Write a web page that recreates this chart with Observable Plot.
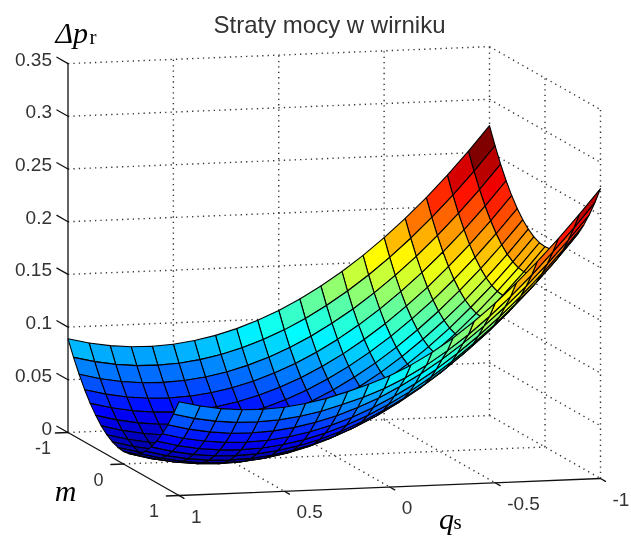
<!DOCTYPE html>
<html>
<head>
<meta charset="utf-8">
<script src="https://cdn.jsdelivr.net/npm/d3@7"></script>
<script src="https://cdn.jsdelivr.net/npm/@observablehq/plot@0.6"></script>
<style>html,body{margin:0;padding:0;background:#fff;overflow:hidden}svg{display:block}</style>
</head>
<body>
<div id="chart"></div>
<script>
const qValues = [1,.9,.8,.7,.6,.5,.4,.3,.2,.1,0,-.1,-.2,-.3,-.4,-.5,-.6,-.7,-.8,-.9,-1];
const mValues = [-1,-.9,-.8,-.7,-.6,-.5,-.4,-.3,-.2,-.1,0,.1,.2,.3,.4,.5,.6,.7,.8,.9,1];
const qTicks = [1,.5,0,-.5,-1];
const mTicks = [-1,0,1];
const zTicks = [0,.05,.1,.15,.2,.25,.3,.35];
const qTickLabels = ["1","0.5","0","-0.5","-1"];
const mTickLabels = ["-1","0","1"];
const zTickLabels = ["0","0.05","0.1","0.15","0.2","0.25","0.3","0.35"];
const titleText = "Straty mocy w wirniku";
// Δp_r: one row per m, one column per q
const dp = [
[.0889,.0841,.0808,.0789,.0786,.0797,.0824,.0865,.0921,.0992,.1077,.1178,.1293,.1423,.1568,.1728,.1902,.2092,.2296,.2516,.2750],
[.0743,.0694,.0660,.0640,.0637,.0647,.0673,.0713,.0769,.0839,.0923,.1023,.1138,.1267,.1411,.1570,.1744,.1933,.2136,.2355,.2589],
[.0612,.0562,.0528,.0507,.0503,.0513,.0538,.0578,.0632,.0702,.0785,.0885,.0999,.1127,.1271,.1429,.1602,.1790,.1993,.2211,.2444],
[.0496,.0446,.0411,.0390,.0385,.0394,.0419,.0458,.0512,.0581,.0664,.0763,.0876,.1004,.1147,.1305,.1477,.1665,.1867,.2085,.2317],
[.0396,.0346,.0310,.0289,.0283,.0291,.0316,.0354,.0408,.0476,.0559,.0657,.0769,.0897,.1039,.1197,.1368,.1556,.1757,.1975,.2206],
[.0312,.0261,.0225,.0203,.0197,.0205,.0229,.0267,.0320,.0388,.0470,.0568,.0680,.0807,.0949,.1106,.1277,.1464,.1665,.1882,.2113],
[.0242,.0191,.0154,.0132,.0126,.0133,.0157,.0195,.0247,.0315,.0397,.0494,.0606,.0733,.0874,.1031,.1201,.1388,.1589,.1805,.2036],
[.0188,.0137,.0100,.0077,.0071,.0078,.0101,.0139,.0191,.0259,.0340,.0437,.0549,.0675,.0816,.0973,.1143,.1329,.1530,.1746,.1977],
[.0150,.0098,.0061,.0038,.0031,.0039,.0062,.0099,.0151,.0218,.0299,.0397,.0508,.0634,.0775,.0931,.1101,.1288,.1488,.1704,.1934],
[.0127,.0075,.0038,.0015,.0008,.0015,.0038,.0075,.0127,.0194,.0275,.0372,.0483,.0609,.0750,.0906,.1076,.1262,.1462,.1678,.1908],
[.0119,.0067,.0030,.0007,.0000,.0007,.0030,.0067,.0119,.0186,.0267,.0364,.0475,.0601,.0742,.0898,.1068,.1254,.1454,.1670,.1900],
[.0127,.0075,.0038,.0015,.0008,.0015,.0038,.0075,.0127,.0194,.0275,.0372,.0483,.0609,.0750,.0906,.1076,.1262,.1462,.1678,.1908],
[.0150,.0098,.0061,.0038,.0031,.0039,.0062,.0099,.0151,.0218,.0299,.0397,.0508,.0634,.0775,.0931,.1101,.1288,.1488,.1704,.1934],
[.0188,.0137,.0100,.0077,.0071,.0078,.0101,.0139,.0191,.0259,.0340,.0437,.0549,.0675,.0816,.0973,.1143,.1329,.1530,.1746,.1977],
[.0242,.0191,.0154,.0132,.0126,.0133,.0157,.0195,.0247,.0315,.0397,.0494,.0606,.0733,.0874,.1031,.1201,.1388,.1589,.1805,.2036],
[.0312,.0261,.0225,.0203,.0197,.0205,.0229,.0267,.0320,.0388,.0470,.0568,.0680,.0807,.0949,.1106,.1277,.1464,.1665,.1882,.2113],
[.0396,.0346,.0310,.0289,.0283,.0291,.0316,.0354,.0408,.0476,.0559,.0657,.0769,.0897,.1039,.1197,.1368,.1556,.1757,.1975,.2206],
[.0496,.0446,.0411,.0390,.0385,.0394,.0419,.0458,.0512,.0581,.0664,.0763,.0876,.1004,.1147,.1305,.1477,.1665,.1867,.2085,.2317],
[.0612,.0562,.0528,.0507,.0503,.0513,.0538,.0578,.0632,.0702,.0785,.0885,.0999,.1127,.1271,.1429,.1602,.1790,.1993,.2211,.2444],
[.0743,.0694,.0660,.0640,.0637,.0647,.0673,.0713,.0769,.0830,.0905,.0998,.1110,.1240,.1385,.1550,.1730,.1925,.2136,.2355,.2589],
[.0889,.0841,.0808,.0789,.0786,.0797,.0824,.0865,.0921,.0982,.1055,.1148,.1260,.1390,.1538,.1703,.1885,.2082,.2292,.2516,.2750]
];

// Orthographic view of the (q, m, Δp) box
const view = {ox: 67.5, oy: 432, qx: 210.75, qy: -8.5, mx: 55.5, my: 31.5, zy: 1054};
const px = d => view.ox + (1 - d.q) * view.qx + (d.m + 1) * view.mx;
const py = d => view.oy + (1 - d.q) * view.qy + (d.m + 1) * view.my - d.z * view.zy;

// Surface cells, back to front; flat colour from the low-q, low-m corner
const cells = [];
mValues.slice(0, -1).forEach((_, i) => {
  for (let j = qValues.length - 2; j >= 0; --j) {
    const cell = `${i}-${j}`;
    const v = dp[i][j + 1];
    [[i, j], [i, j + 1], [i + 1, j + 1], [i + 1, j], [i, j]].forEach(([a, b]) => {
      cells.push({cell, v, q: qValues[b], m: mValues[a], z: dp[a][b]});
    });
  }
});

// Dotted box grid
const zMax = zTicks[zTicks.length - 1];
const grid = [];
const seg = (k, a, b) => { grid.push({k, ...a}, {k, ...b}); };
zTicks.forEach(z => {
  seg(`wq${z}`, {q: 1, m: -1, z}, {q: -1, m: -1, z});
  seg(`wm${z}`, {q: -1, m: -1, z}, {q: -1, m: 1, z});
});
qTicks.slice(1).forEach(q => {
  seg(`vq${q}`, {q, m: -1, z: 0}, {q, m: -1, z: zMax});
  if (q !== -1) seg(`fq${q}`, {q, m: -1, z: 0}, {q, m: 1, z: 0});
});
mTicks.slice(1).forEach(m => {
  seg(`vm${m}`, {q: -1, m, z: 0}, {q: -1, m, z: zMax});
});
seg("fm", {q: 1, m: 0, z: 0}, {q: -1, m: 0, z: 0});

// Solid axes and tick marks
const axes = [];
const aseg = (k, a, b) => { axes.push({k, ...a}, {k, ...b}); };
aseg("az", {q: 1, m: -1, z: 0}, {q: 1, m: -1, z: zMax});
aseg("am", {q: 1, m: -1, z: 0}, {q: 1, m: 1, z: 0});
aseg("aq", {q: 1, m: 1, z: 0}, {q: -1, m: 1, z: 0});
zTicks.forEach(z => aseg(`tz${z}`, {q: 1, m: -1, z}, {q: 1, m: -1.2, z}));
mTicks.forEach(m => aseg(`tm${m}`, {q: 1, m, z: 0}, {q: 1.06, m, z: 0}));
qTicks.forEach(q => aseg(`tq${q}`, {q, m: 1, z: 0}, {q, m: 1.09, z: 0}));

const zLabels = zTicks.map((z, i) => ({q: 1, m: -1, z, t: zTickLabels[i]}));
const mLabels = mTicks.map((m, i) => ({q: 1, m, z: 0, t: mTickLabels[i]}));
const qLabels = qTicks.map((q, i) => ({q, m: 1, z: 0, t: qTickLabels[i]}));

const sans = "Liberation Sans";
const serif = "Liberation Serif";
const tickColor = "#333";
const zs = d3.extent(dp.flat());
const jetStops = [0, .125, .375, .625, .875, 1];
const jetColors = ["#00008f", "#0000ff", "#00ffff", "#ffff00", "#ff0000", "#800000"];

const chart = Plot.plot({
  width: 631,
  height: 536,
  margin: 0,
  style: {background: "#fff"},
  x: {domain: [0, 631], range: [0, 631], axis: null},
  y: {domain: [0, 536], range: [0, 536], axis: null},
  color: {
    type: "linear",
    domain: jetStops.map(t => zs[0] + t * (zs[1] - zs[0])),
    range: jetColors,
    interpolate: "rgb"
  },
  marks: [
    Plot.line(grid, {x: px, y: py, z: "k", stroke: "#333", strokeWidth: 1.4, strokeDasharray: "1.3,4.1", strokeLinecap: "butt"}),
    Plot.line(cells, {x: px, y: py, z: "cell", fill: "v", stroke: "#000", strokeWidth: 1.1, strokeLinejoin: "round"}),
    Plot.line(axes, {x: px, y: py, z: "k", stroke: "#111", strokeWidth: 1.3}),
    Plot.text(zLabels, {x: px, y: py, text: "t", dx: -16, dy: -4, textAnchor: "end", fontFamily: sans, fontSize: 19, fill: tickColor}),
    Plot.text(mLabels, {x: px, y: py, text: "t", dx: -25, dy: 16, fontFamily: sans, fontSize: 18, fill: tickColor}),
    Plot.text(qLabels, {x: px, y: py, text: "t", dx: 12, dy: 21, textAnchor: "start", fontFamily: sans, fontSize: 19, fill: tickColor}),
    Plot.text([titleText], {x: () => 329, y: () => 25, text: d => d, fontFamily: sans, fontSize: 24, fill: tickColor}),
    Plot.text(["Δp"], {x: () => 55, y: () => 33, text: d => d, textAnchor: "start", fontFamily: serif, fontStyle: "italic", fontSize: 30, fill: "#000"}),
    Plot.text(["r"], {x: () => 89, y: () => 37, text: d => d, textAnchor: "start", fontFamily: serif, fontSize: 21, fill: "#000"}),
    Plot.text(["m"], {x: () => 65, y: () => 491, text: d => d, fontFamily: serif, fontStyle: "italic", fontSize: 30, fill: "#000"}),
    Plot.text(["q"], {x: () => 446, y: () => 519, text: d => d, fontFamily: serif, fontStyle: "italic", fontSize: 30, fill: "#000"}),
    Plot.text(["s"], {x: () => 457, y: () => 522, text: d => d, fontFamily: serif, fontSize: 21, fill: "#000"})
  ]
});
chart.style.filter = "blur(0.35px)";
document.getElementById("chart").appendChild(chart);
</script>
</body>
</html>
